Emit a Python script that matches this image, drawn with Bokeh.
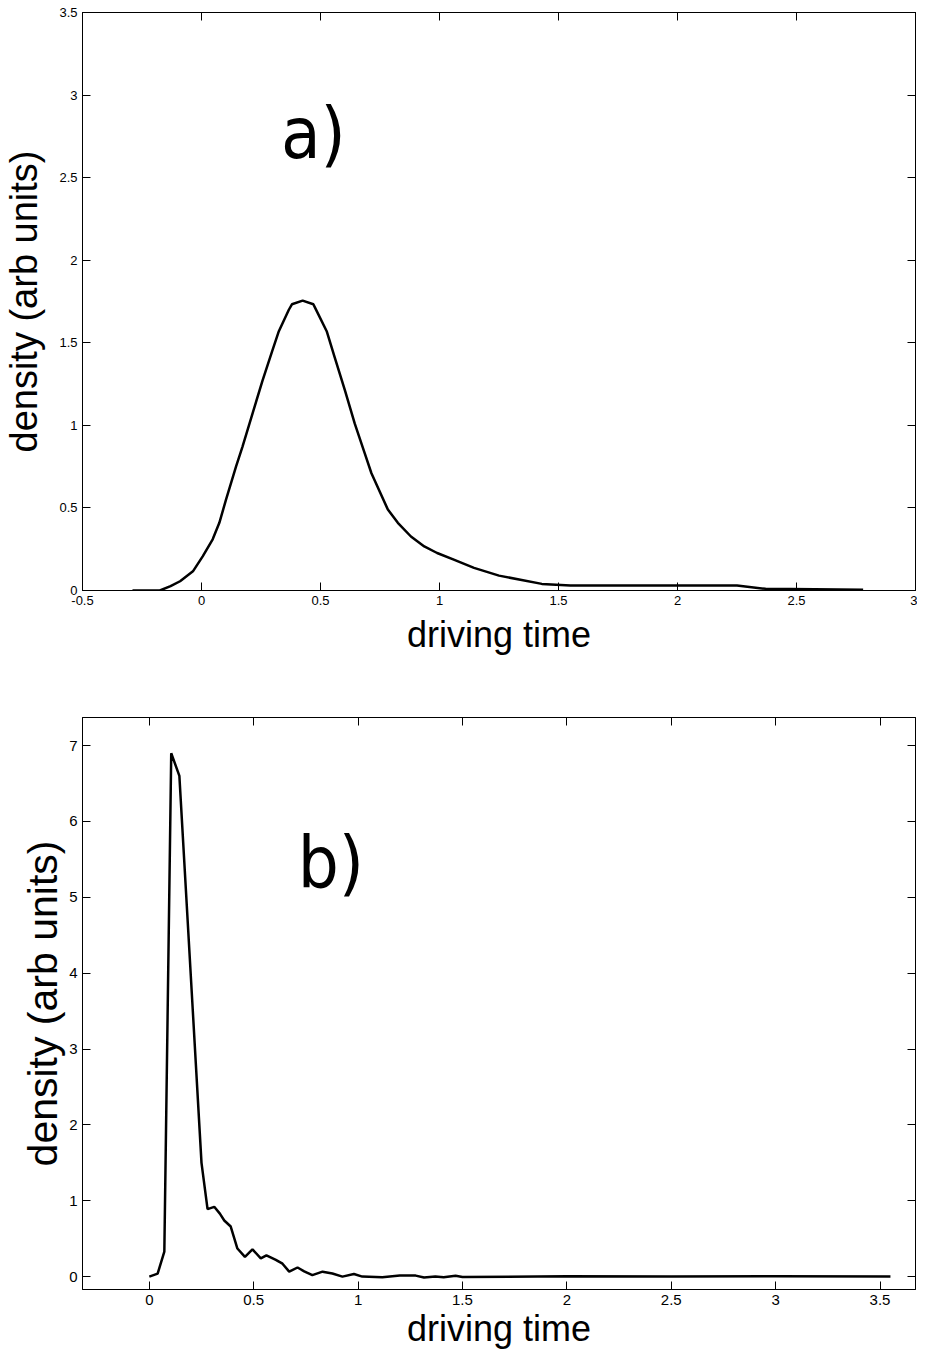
from bokeh.plotting import figure
from bokeh.layouts import column
from bokeh.models import FixedTicker, LinearAxis, Label, Range1d
from bokeh.embed import file_html
from bokeh.resources import INLINE

# ---------------- data ----------------
# panel a)
a_time = [-0.29, -0.175, -0.13, -0.09, -0.036, 0.005, 0.047, 0.075, 0.103, 0.145, 0.172,
          0.214, 0.256, 0.297, 0.325, 0.367, 0.38, 0.425, 0.47, 0.478, 0.526, 0.56, 0.603,
          0.644, 0.686, 0.714, 0.783, 0.825, 0.88, 0.936, 0.99, 1.06, 1.145, 1.25, 1.43,
          1.55, 2.25, 2.37, 2.78]
a_density = [0.0, 0.0, 0.026, 0.056, 0.116, 0.207, 0.31, 0.41, 0.55, 0.75, 0.87,
             1.07, 1.27, 1.45, 1.57, 1.70, 1.733, 1.755, 1.733, 1.71, 1.57, 1.41, 1.21,
             1.01, 0.83, 0.71, 0.49, 0.41, 0.327, 0.267, 0.227, 0.187, 0.137, 0.09, 0.04,
             0.03, 0.03, 0.01, 0.005]

# panel b)
b_time = [0.0, 0.04, 0.072, 0.105, 0.144, 0.25, 0.279, 0.311, 0.338, 0.359, 0.39, 0.422,
          0.458, 0.494, 0.534, 0.561, 0.606, 0.638, 0.67, 0.71, 0.742, 0.781, 0.83, 0.877,
          0.925, 0.98, 1.02, 1.116, 1.2, 1.276, 1.316, 1.37, 1.41, 1.467, 1.5, 2.0, 2.5,
          3.0, 3.55]
b_density = [0.0, 0.04, 0.33, 6.9, 6.6, 1.5, 0.89, 0.92, 0.83, 0.74, 0.66, 0.37,
             0.26, 0.36, 0.24, 0.28, 0.22, 0.17, 0.065, 0.12, 0.07, 0.02, 0.065, 0.04,
             0.0, 0.035, 0.0, -0.01, 0.013, 0.013, -0.013, 0.0, -0.01, 0.01, -0.005, 0.005, 0.0,
             0.005, 0.0]

# ticks
a_xticks = [-0.5, 0, 0.5, 1, 1.5, 2, 2.5, 3]
a_xlabels = ["-0.5", "0", "0.5", "1", "1.5", "2", "2.5", "3"]
a_yticks = [0, 0.5, 1, 1.5, 2, 2.5, 3, 3.5]
a_ylabels = ["0", "0.5", "1", "1.5", "2", "2.5", "3", "3.5"]
b_xticks = [0, 0.5, 1, 1.5, 2, 2.5, 3, 3.5]
b_xlabels = ["0", "0.5", "1", "1.5", "2", "2.5", "3", "3.5"]
b_yticks = [0, 1, 2, 3, 4, 5, 6, 7]
b_ylabels = ["0", "1", "2", "3", "4", "5", "6", "7"]

x_title = "driving time"
y_title = "density (arb units)"

FONT = "Liberation Sans"
PANEL_FONT = "DejaVu Sans Condensed"


def style_axis(ax, ticks, labels, fs, show_labels=True):
    ax.ticker = FixedTicker(ticks=ticks)
    ax.major_tick_in = 8
    ax.major_tick_out = 0
    ax.minor_tick_line_color = None
    ax.axis_line_color = "black"
    ax.major_tick_line_color = "black"
    ax.axis_line_width = 1
    ax.major_label_text_font = FONT
    if show_labels:
        ax.major_label_overrides = {t: l for t, l in zip(ticks, labels)}
        ax.major_label_text_color = "black"
        ax.major_label_text_font_size = fs
        ax.major_label_standoff = 5
    else:
        ax.major_label_text_color = None
        ax.major_label_text_font_size = "1px"
        ax.major_label_standoff = 0
        ax.axis_label_standoff = 0


def make_panel(xr, yr, xt, xl, yt, yl, tick_fs, ylab_fs, ylab_standoff,
               height, mb_top, mb_bottom, xlab_standoff):
    p = figure(width=917, height=height, x_range=Range1d(*xr), y_range=Range1d(*yr),
               output_backend="svg", toolbar_location=None,
               min_border_left=75, min_border_right=2,
               min_border_top=mb_top, min_border_bottom=mb_bottom)
    p.xgrid.visible = False
    p.ygrid.visible = False
    p.outline_line_color = "black"
    p.outline_line_width = 1
    p.background_fill_color = "white"
    p.border_fill_color = "white"

    style_axis(p.xaxis[0], xt, xl, tick_fs)
    style_axis(p.yaxis[0], yt, yl, tick_fs)
    p.xaxis[0].axis_label = x_title
    p.xaxis[0].axis_label_text_font = FONT
    p.xaxis[0].axis_label_text_font_style = "normal"
    p.xaxis[0].axis_label_text_font_size = "36px"
    p.xaxis[0].axis_label_text_color = "black"
    p.xaxis[0].axis_label_standoff = xlab_standoff
    p.yaxis[0].axis_label = y_title
    p.yaxis[0].axis_label_text_font = FONT
    p.yaxis[0].axis_label_text_font_style = "normal"
    p.yaxis[0].axis_label_text_font_size = ylab_fs
    p.yaxis[0].axis_label_text_color = "black"
    p.yaxis[0].axis_label_standoff = ylab_standoff

    top = LinearAxis()
    style_axis(top, xt, xl, tick_fs, show_labels=False)
    p.add_layout(top, "above")
    right = LinearAxis()
    style_axis(right, yt, yl, tick_fs, show_labels=False)
    p.add_layout(right, "right")
    return p


pa = make_panel((-0.5, 3.0), (0.0, 3.5), a_xticks, a_xlabels, a_yticks, a_ylabels,
                "13px", "38px", 11, 680, 12, 90, 6)
pa.line(a_time, a_density, line_color="black", line_width=2.5)
pa.add_layout(Label(x=0.47, y=2.77, text="a)", text_font=PANEL_FONT,
                    text_font_size="72px", text_color="black",
                    text_align="center", text_baseline="middle"))

pb = make_panel((-0.32, 3.67), (-0.17, 7.37), b_xticks, b_xlabels, b_yticks, b_ylabels,
                "15px", "41px", 0, 671, 37, 58, 0)
pb.line(b_time, b_density, line_color="black", line_width=2.5)
pb.add_layout(Label(x=0.87, y=5.47, text="b)", text_font=PANEL_FONT,
                    text_font_size="72px", text_color="black",
                    text_align="center", text_baseline="middle"))

layout = column(pa, pb, spacing=0)
open("out.html", "w").write(file_html(layout, INLINE))
